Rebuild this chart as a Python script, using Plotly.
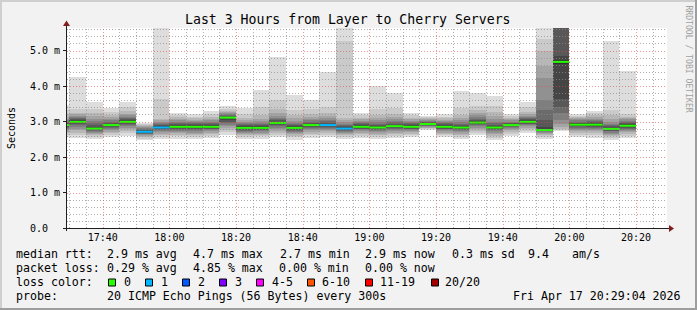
import plotly.graph_objects as go

# ---------------- data ----------------
day = "2026-04-17 "
bar_start = ["17:25", "17:30", "17:35", "17:40", "17:45", "17:50", "17:55",
             "18:00", "18:05", "18:10", "18:15", "18:20", "18:25", "18:30",
             "18:35", "18:40", "18:45", "18:50", "18:55", "19:00", "19:05",
             "19:10", "19:15", "19:20", "19:25", "19:30", "19:35", "19:40",
             "19:45", "19:50", "19:55", "20:00", "20:05", "20:10", "20:15"]

median_ms = [2.90, 2.99, 2.80, 2.90, 2.99, 2.71, 2.83, 2.85, 2.85, 2.85, 3.11,
             2.82, 2.82, 2.96, 2.82, 2.90, 2.90, 2.80, 2.85, 2.83, 2.87, 2.85,
             2.93, 2.85, 2.83, 2.97, 2.83, 2.90, 2.99, 2.76, 4.68, 2.91, 2.91,
             2.79, 2.88]

loss_count = [0, 0, 0, 0, 0, 1, 1, 0, 0, 0, 0, 0, 0, 0, 0, 0, 1, 1, 0, 0, 0, 0,
              0, 0, 0, 0, 0, 0, 0, 0, 0, 0, 0, 0, 0]

# 20 sorted ping times (ms) per 5-minute step
pings_ms = [
    [2.55, 2.62, 2.67, 2.71, 2.75, 2.78, 2.81, 2.84, 2.86, 2.89, 2.91, 2.94, 2.97, 3.00, 3.04, 3.08, 3.13, 3.20, 3.32, 3.46],
    [2.53, 2.62, 2.69, 2.75, 2.80, 2.85, 2.89, 2.93, 2.96, 2.98, 3.00, 3.03, 3.06, 3.09, 3.12, 3.16, 3.20, 3.24, 3.35, 4.26],
    [2.52, 2.57, 2.61, 2.65, 2.68, 2.71, 2.74, 2.76, 2.78, 2.79, 2.81, 2.85, 2.90, 2.96, 3.02, 3.08, 3.15, 3.25, 3.35, 3.56],
    [2.55, 2.62, 2.67, 2.71, 2.75, 2.78, 2.81, 2.84, 2.86, 2.89, 2.91, 2.94, 2.97, 3.00, 3.04, 3.08, 3.13, 3.19, 3.27, 3.39],
    [2.60, 2.67, 2.73, 2.78, 2.83, 2.87, 2.90, 2.93, 2.96, 2.98, 3.00, 3.03, 3.06, 3.09, 3.13, 3.17, 3.22, 3.29, 3.40, 3.56],
    [2.47, 2.52, 2.56, 2.59, 2.62, 2.64, 2.66, 2.68, 2.69, 2.70, 2.72, 2.74, 2.76, 2.78, 2.81, 2.84, 2.87, 2.90, 2.93, 2.97],
    [2.50, 2.57, 2.62, 2.66, 2.70, 2.73, 2.76, 2.78, 2.80, 2.82, 2.84, 2.87, 2.90, 2.93, 2.96, 3.00, 3.03, 3.06, 3.63, 6.20],
    [2.52, 2.58, 2.63, 2.67, 2.71, 2.74, 2.77, 2.80, 2.82, 2.84, 2.86, 2.89, 2.92, 2.95, 2.99, 3.03, 3.08, 3.13, 3.19, 3.25],
    [2.50, 2.56, 2.61, 2.65, 2.69, 2.72, 2.75, 2.78, 2.81, 2.84, 2.86, 2.89, 2.92, 2.95, 2.98, 3.01, 3.05, 3.09, 3.14, 3.21],
    [2.54, 2.60, 2.65, 2.69, 2.72, 2.75, 2.78, 2.80, 2.82, 2.84, 2.86, 2.89, 2.92, 2.95, 2.99, 3.03, 3.08, 3.14, 3.21, 3.30],
    [2.62, 2.70, 2.76, 2.81, 2.86, 2.90, 2.95, 3.00, 3.05, 3.10, 3.12, 3.14, 3.16, 3.18, 3.20, 3.23, 3.26, 3.30, 3.36, 3.44],
    [2.50, 2.56, 2.61, 2.65, 2.68, 2.71, 2.74, 2.77, 2.79, 2.81, 2.83, 2.86, 2.89, 2.92, 2.96, 3.00, 3.05, 3.11, 3.21, 3.39],
    [2.52, 2.58, 2.62, 2.66, 2.69, 2.72, 2.75, 2.77, 2.79, 2.81, 2.83, 2.86, 2.89, 2.93, 2.97, 3.02, 3.08, 3.17, 3.40, 3.89],
    [2.55, 2.62, 2.68, 2.74, 2.79, 2.83, 2.87, 2.90, 2.93, 2.95, 2.97, 3.00, 3.03, 3.07, 3.11, 3.16, 3.23, 3.35, 3.61, 4.83],
    [2.49, 2.55, 2.60, 2.64, 2.68, 2.71, 2.74, 2.77, 2.79, 2.81, 2.83, 2.86, 2.89, 2.93, 2.97, 3.02, 3.09, 3.18, 3.33, 3.75],
    [2.54, 2.61, 2.66, 2.71, 2.75, 2.78, 2.81, 2.84, 2.87, 2.89, 2.91, 2.94, 2.97, 3.00, 3.04, 3.08, 3.14, 3.22, 3.35, 3.61],
    [2.57, 2.63, 2.68, 2.72, 2.76, 2.79, 2.82, 2.85, 2.87, 2.89, 2.91, 2.94, 2.97, 3.01, 3.05, 3.10, 3.16, 3.24, 3.41, 4.39],
    [2.50, 2.56, 2.61, 2.65, 2.68, 2.71, 2.73, 2.75, 2.77, 2.79, 2.81, 2.84, 2.87, 2.90, 2.94, 2.98, 3.03, 3.10, 5.28, 6.30],
    [2.54, 2.60, 2.65, 2.69, 2.72, 2.75, 2.78, 2.80, 2.82, 2.84, 2.86, 2.89, 2.92, 2.95, 2.98, 3.02, 3.06, 3.11, 3.17, 3.25],
    [2.50, 2.57, 2.62, 2.66, 2.70, 2.73, 2.76, 2.78, 2.80, 2.82, 2.84, 2.87, 2.90, 2.94, 2.98, 3.03, 3.09, 3.18, 3.35, 4.01],
    [2.54, 2.60, 2.65, 2.69, 2.73, 2.76, 2.79, 2.82, 2.84, 2.86, 2.88, 2.91, 2.94, 2.98, 3.02, 3.07, 3.13, 3.22, 3.38, 3.81],
    [2.56, 2.62, 2.66, 2.70, 2.73, 2.76, 2.78, 2.80, 2.82, 2.84, 2.86, 2.89, 2.92, 2.95, 2.98, 3.02, 3.06, 3.11, 3.18, 3.25],
    [2.76, 2.79, 2.81, 2.83, 2.85, 2.87, 2.88, 2.90, 2.91, 2.92, 2.94, 2.96, 2.98, 3.00, 3.02, 3.04, 3.06, 3.09, 3.12, 3.16],
    [2.55, 2.61, 2.65, 2.69, 2.72, 2.75, 2.78, 2.80, 2.82, 2.84, 2.86, 2.89, 2.92, 2.95, 2.98, 3.01, 3.05, 3.09, 3.14, 3.21],
    [2.50, 2.57, 2.62, 2.66, 2.70, 2.73, 2.76, 2.78, 2.80, 2.82, 2.84, 2.87, 2.90, 2.94, 2.98, 3.03, 3.10, 3.19, 3.38, 3.87],
    [2.61, 2.68, 2.74, 2.79, 2.83, 2.86, 2.89, 2.92, 2.94, 2.96, 2.98, 3.01, 3.04, 3.08, 3.12, 3.17, 3.23, 3.32, 3.45, 3.79],
    [2.47, 2.54, 2.59, 2.64, 2.68, 2.72, 2.75, 2.78, 2.80, 2.82, 2.84, 2.87, 2.91, 2.95, 3.00, 3.07, 3.15, 3.27, 3.45, 3.72],
    [2.60, 2.66, 2.71, 2.75, 2.78, 2.81, 2.84, 2.86, 2.88, 2.89, 2.91, 2.93, 2.95, 2.97, 3.00, 3.03, 3.06, 3.10, 3.15, 3.20],
    [2.68, 2.74, 2.79, 2.83, 2.87, 2.90, 2.92, 2.94, 2.96, 2.98, 3.00, 3.03, 3.06, 3.09, 3.12, 3.16, 3.21, 3.28, 3.40, 3.56],
    [2.50, 2.56, 2.61, 2.65, 2.68, 2.71, 2.73, 2.74, 2.75, 2.76, 2.77, 2.85, 3.05, 3.32, 3.60, 4.22, 4.55, 5.00, 5.33, 6.00],
    [2.72, 2.76, 2.80, 2.85, 2.94, 3.05, 3.25, 3.40, 3.62, 4.63, 4.73, 4.85, 5.80, 6.00, 6.20, 6.40, 6.70, 7.00, 7.50, 8.00],
    [2.57, 2.63, 2.68, 2.73, 2.77, 2.80, 2.83, 2.86, 2.88, 2.90, 2.92, 2.95, 2.97, 3.00, 3.03, 3.06, 3.09, 3.12, 3.16, 3.21],
    [2.54, 2.61, 2.67, 2.72, 2.76, 2.79, 2.82, 2.85, 2.88, 2.90, 2.92, 2.95, 2.98, 3.01, 3.04, 3.08, 3.12, 3.17, 3.23, 3.30],
    [2.47, 2.53, 2.58, 2.62, 2.66, 2.69, 2.72, 2.74, 2.76, 2.78, 2.80, 2.83, 2.86, 2.90, 2.94, 3.00, 3.08, 3.18, 3.32, 5.27],
    [2.54, 2.60, 2.65, 2.70, 2.74, 2.77, 2.80, 2.83, 2.85, 2.87, 2.89, 2.92, 2.95, 2.98, 3.02, 3.06, 3.10, 3.14, 3.20, 4.42],
]

y_tick_values = [0, 1, 2, 3, 4, 5]
y_tick_labels = ["0.0", "1.0 m", "2.0 m", "3.0 m", "4.0 m", "5.0 m"]
x_tick_times = ["17:40", "18:00", "18:20", "18:40", "19:00", "19:20", "19:40", "20:00", "20:20"]

loss_labels = ["0", "1", "2", "3", "4-5", "6-10", "11-19", "20/20"]
loss_colors = ["#26ff00", "#00b8ff", "#0059ff", "#7e00ff", "#ff00ff", "#ff5500", "#ff0000", "#a10000"]

title = "Last 3 Hours from Layer to Cherry Servers"
range_start = day + "17:29:17"
range_end = day + "20:29:17"
y_top = 5.634
step_ms = 300000

# ---------------- layout helpers ----------------
W, H = 697, 310
L, R, T, B = 67, 30, 28, 82
PW, PH = W - L - R, H - T - B
MONO = "DejaVu Sans Mono"
START_MIN = 17 * 60 + 29 + 17 / 60.0
SPAN_MIN = 180.0


def px(x):
    return (x - L) / PW


def py(y):
    return (H - B - y) / PH


xs = [day + t + ":00" for t in bar_start]

fig = go.Figure()

# smoke layers (SmokePing style: outer pairs light, inner pairs dark)
n = len(pings_ms[0])
half = n // 2
for k in range(1, half + 1):
    lo = [p[k - 1] for p in pings_ms]
    hi = [p[n - k] for p in pings_ms]
    c = int(190 / half * (half - k)) + 50
    fig.add_trace(go.Bar(
        x=xs, base=lo, y=[h - l for h, l in zip(hi, lo)],
        width=step_ms, offset=0,
        marker=dict(color="rgb(%d,%d,%d)" % (c, c, c), line=dict(width=0)),
        hoverinfo="skip", showlegend=False))


def loss_index(lv):
    if lv <= 3:
        return lv
    if lv <= 5:
        return 4
    if lv <= 10:
        return 5
    if lv <= 19:
        return 6
    return 7


# median lines coloured by loss
for lc, col in enumerate(loss_colors):
    sx, sy = [], []
    for i, m in enumerate(median_ms):
        if loss_index(loss_count[i]) != lc:
            continue
        t0 = xs[i]
        t1 = xs[i + 1] if i + 1 < len(xs) else day + "20:20:00"
        sx += [t0, t1, None]
        sy += [m, m, None]
    if sx:
        fig.add_trace(go.Scatter(x=sx, y=sy, mode="lines",
                                 line=dict(color=col, width=2),
                                 hoverinfo="skip", showlegend=False))

shapes = []
GRID = "rgba(143,143,143,0.72)"
MGRID = "rgba(222,79,79,0.6)"
# horizontal grid (snapped to pixel centres)
for i in range(1, int(y_top / 0.2) + 1):
    v = round(i * 0.2, 1)
    major = abs(v - round(v)) < 1e-9
    ypix = round(T + PH * (1 - v / y_top)) + 0.5
    shapes.append(dict(type="line", xref="paper", yref="paper", x0=0, x1=1, y0=py(ypix), y1=py(ypix),
                       line=dict(color=MGRID if major else GRID, width=1, dash="1px,2px"),
                       layer="above"))
# vertical grid every 5 minutes
for hh in range(17, 21):
    for mm in range(0, 60, 5):
        tm = hh * 60 + mm
        if tm < 17 * 60 + 30 or tm > 20 * 60 + 25:
            continue
        major = (tm - (17 * 60 + 40)) % 20 == 0
        xpix = round(L + PW * (tm - START_MIN) / SPAN_MIN) + 0.5
        shapes.append(dict(type="line", xref="paper", yref="paper", x0=px(xpix), x1=px(xpix), y0=0, y1=1,
                           line=dict(color=MGRID if major else GRID, width=1, dash="1px,2px"),
                           layer="above"))

AXIS = "#1f1f1f"
ARROW = "#801f1f"
# axes
shapes.append(dict(type="line", xref="paper", yref="paper", x0=px(63), x1=px(670), y0=py(228.5), y1=py(228.5),
                   line=dict(color=AXIS, width=1), layer="above"))
shapes.append(dict(type="line", xref="paper", yref="paper", x0=px(66.5), x1=px(66.5), y0=py(231), y1=py(24),
                   line=dict(color=AXIS, width=1), layer="above"))
shapes.append(dict(type="path", xref="paper", yref="paper",
                   path="M %f %f L %f %f L %f %f Z" % (px(669), py(225), px(669), py(232), px(674), py(228.5)),
                   fillcolor=ARROW, line=dict(width=0), layer="above"))
shapes.append(dict(type="path", xref="paper", yref="paper",
                   path="M %f %f L %f %f L %f %f Z" % (px(63), py(26), px(70), py(26), px(66.5), py(20.5)),
                   fillcolor=ARROW, line=dict(width=0), layer="above"))

# frame
shapes.append(dict(type="rect", xref="paper", yref="paper", x0=px(0), x1=px(W), y0=py(0), y1=py(2),
                   fillcolor="#cfcfcf", line=dict(width=0), layer="above"))
shapes.append(dict(type="rect", xref="paper", yref="paper", x0=px(0), x1=px(2), y0=py(0), y1=py(H),
                   fillcolor="#cfcfcf", line=dict(width=0), layer="above"))
shapes.append(dict(type="rect", xref="paper", yref="paper", x0=px(0), x1=px(W), y0=py(H - 2), y1=py(H),
                   fillcolor="#9e9e9e", line=dict(width=0), layer="above"))
shapes.append(dict(type="rect", xref="paper", yref="paper", x0=px(W - 2), x1=px(W), y0=py(0), y1=py(H),
                   fillcolor="#9e9e9e", line=dict(width=0), layer="above"))

annotations = []


def text(s, x, y, size=11.6, anchor="left", color="#000", angle=0, yref="paper", yval=None):
    annotations.append(dict(text=s, xref="paper", yref=yref, x=px(x),
                            y=py(y) if yval is None else yval,
                            xanchor=anchor, yanchor="middle", showarrow=False,
                            textangle=angle, font=dict(family=MONO, size=size, color=color)))


text(title, 347.5, 19.3, size=13.2, anchor="center")
text("Seconds", 11, 128, size=10, anchor="center", angle=-90)
text("RRDTOOL / TOBI OETIKER", 688, 58.5, size=8.1, anchor="center", angle=90, color="#a0a0a0")

for v, lab in zip(y_tick_values, y_tick_labels):
    text(lab, 28, 0, size=10, yref="y", yval=v)

# legend lines
lx = 14
text("median rtt:", lx, 254.3)
for s, x in [("2.9 ms avg", 105.3), ("4.7 ms max", 191.3), ("2.7 ms min", 278), ("2.9 ms now", 363),
             ("0.3 ms sd", 449.7), ("9.4", 526), ("am/s", 570)]:
    text(s, x, 254.3)
text("packet loss:", lx, 268.3)
for s, x in [("0.29 % avg", 105.3), ("4.85 % max", 191.3), ("0.00 % min", 277.3), ("0.00 % now", 363)]:
    text(s, x, 268.3)
text("loss color:", lx, 282.3)
box_left = [108.5, 145.5, 182.5, 219.5, 256.5, 307.5, 365.5, 431.5]
lab_left = [124, 161.3, 198, 235, 271.7, 321.7, 380, 445]
for lab, col, bx, tx in zip(loss_labels, loss_colors, box_left, lab_left):
    shapes.append(dict(type="rect", xref="paper", yref="paper", x0=px(bx), x1=px(bx + 7),
                       y0=py(279), y1=py(286), fillcolor=col, line=dict(color="#000", width=1)))
    text(lab, tx - 2, 282.3)
text("probe:", lx, 295.7)
text("20 ICMP Echo Pings (56 Bytes) every 300s", 105.3, 295.7)
text("Fri Apr 17 20:29:04 2026", 511.3, 295.7)

fig.update_layout(
    width=W, height=H,
    margin=dict(l=L, r=R, t=T, b=B, pad=0),
    paper_bgcolor="#f2f2f2", plot_bgcolor="#ffffff",
    barmode="overlay", bargap=0, showlegend=False,
    shapes=shapes, annotations=annotations,
    xaxis=dict(type="date", range=[range_start, range_end], showgrid=False, zeroline=False,
               showline=False, tickvals=[day + t + ":00" for t in x_tick_times],
               tickformat="%H:%M", ticks="", tickfont=dict(family=MONO, size=10, color="#000"),
               ticklabelstandoff=2, fixedrange=True),
    yaxis=dict(range=[0, y_top], showgrid=False, zeroline=False, showline=False,
               tickvals=y_tick_values, ticks="outside", ticklen=3, tickcolor=AXIS,
               showticklabels=False, fixedrange=True),
)

fig.write_html("out.html", config={"displayModeBar": False})
